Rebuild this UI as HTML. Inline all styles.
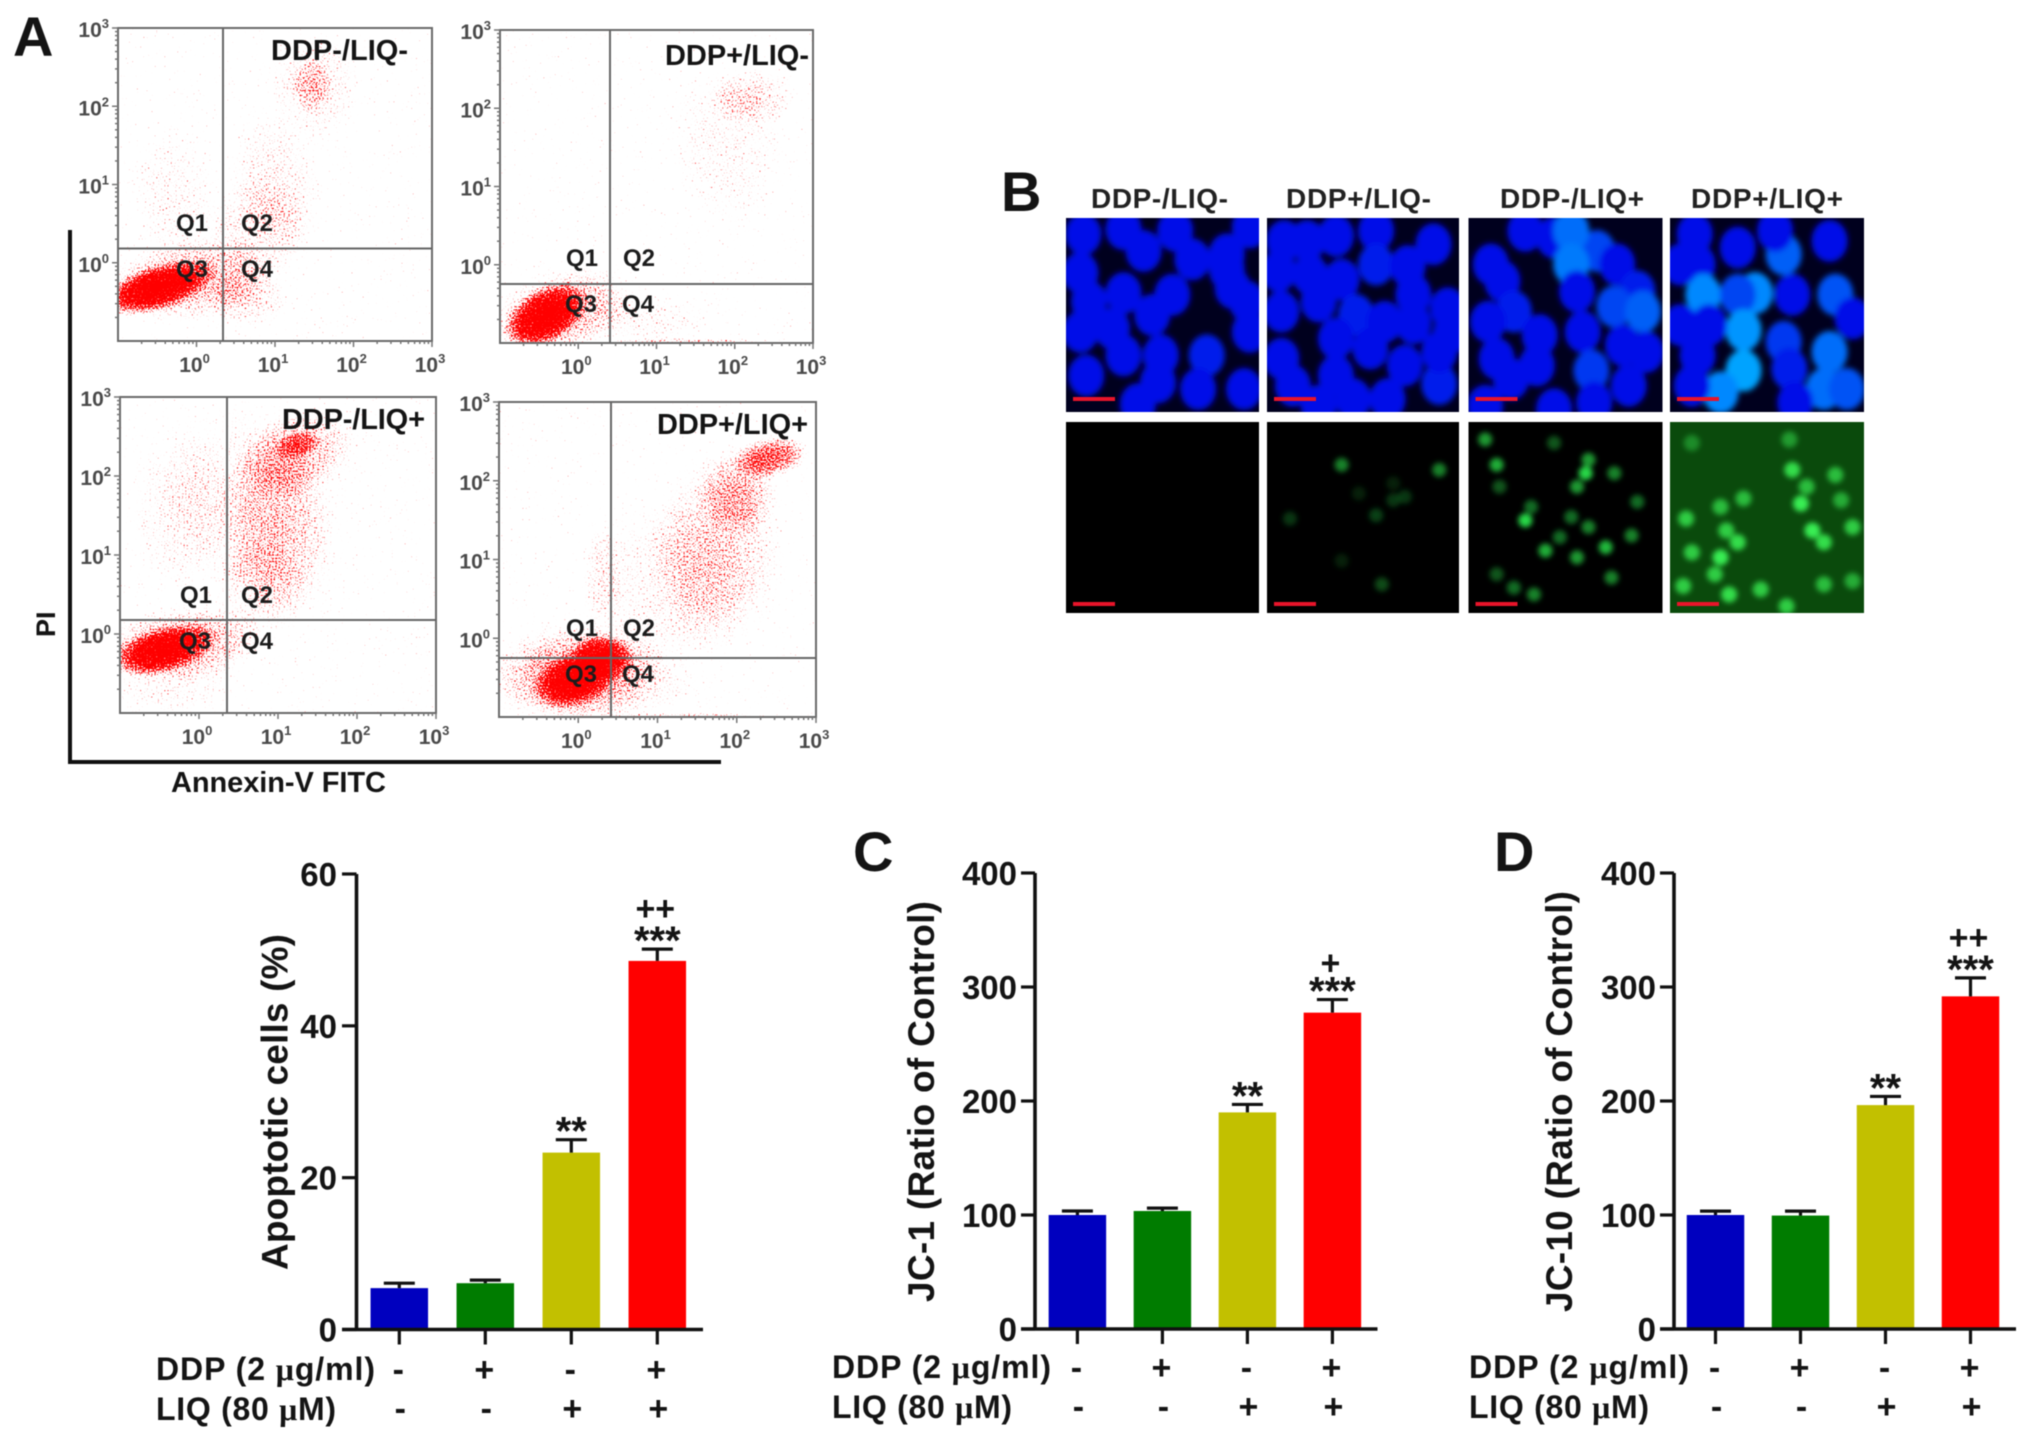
<!DOCTYPE html>
<html lang="en">
<head>
<meta charset="utf-8">
<title>Apoptosis and mitochondrial membrane potential figure</title>
<style>
html,body{margin:0;padding:0;background:#fff;width:2031px;height:1442px;overflow:hidden}
svg{display:block;filter:blur(.6px)}
text{font-family:"Liberation Sans",sans-serif;font-weight:bold;fill:#141414}
.q{font-size:24px;fill:#1c1c1c}
.pt{font-size:29px}
.bl{font-size:28px;fill:#222}
.row{font-size:32px}
.yt{font-size:37px}
.mu{font-family:"Liberation Serif",serif}
</style>
</head>
<body>
<svg id="figure" xmlns="http://www.w3.org/2000/svg" width="2031" height="1442" viewBox="0 0 2031 1442">
<defs>
<radialGradient id="cloud"><stop offset="0" stop-color="#000" stop-opacity="1"/><stop offset=".55" stop-color="#000" stop-opacity=".72"/><stop offset="1" stop-color="#000" stop-opacity="0"/></radialGradient>
<filter id="stipple-1" filterUnits="userSpaceOnUse" x="118" y="28" width="314" height="313" color-interpolation-filters="sRGB"><feTurbulence type="fractalNoise" baseFrequency="0.62" numOctaves="1" seed="3" result="n"/><feComposite in="SourceAlpha" in2="n" operator="arithmetic" k1="0" k2="1.3" k3="-2" k4="0.52" result="m"/><feComponentTransfer in="m" result="a"><feFuncA type="linear" slope="3"/></feComponentTransfer><feFlood flood-color="#ff0000"/><feComposite in2="a" operator="in"/></filter>
<filter id="stipple-2" filterUnits="userSpaceOnUse" x="500" y="30" width="313" height="313" color-interpolation-filters="sRGB"><feTurbulence type="fractalNoise" baseFrequency="0.62" numOctaves="1" seed="11" result="n"/><feComposite in="SourceAlpha" in2="n" operator="arithmetic" k1="0" k2="1.3" k3="-2" k4="0.52" result="m"/><feComponentTransfer in="m" result="a"><feFuncA type="linear" slope="3"/></feComponentTransfer><feFlood flood-color="#ff0000"/><feComposite in2="a" operator="in"/></filter>
<filter id="stipple-3" filterUnits="userSpaceOnUse" x="120" y="397" width="316" height="316" color-interpolation-filters="sRGB"><feTurbulence type="fractalNoise" baseFrequency="0.62" numOctaves="1" seed="23" result="n"/><feComposite in="SourceAlpha" in2="n" operator="arithmetic" k1="0" k2="1.3" k3="-2" k4="0.52" result="m"/><feComponentTransfer in="m" result="a"><feFuncA type="linear" slope="3"/></feComponentTransfer><feFlood flood-color="#ff0000"/><feComposite in2="a" operator="in"/></filter>
<filter id="stipple-4" filterUnits="userSpaceOnUse" x="499" y="402" width="317" height="315" color-interpolation-filters="sRGB"><feTurbulence type="fractalNoise" baseFrequency="0.62" numOctaves="1" seed="37" result="n"/><feComposite in="SourceAlpha" in2="n" operator="arithmetic" k1="0" k2="1.3" k3="-2" k4="0.52" result="m"/><feComponentTransfer in="m" result="a"><feFuncA type="linear" slope="3"/></feComponentTransfer><feFlood flood-color="#ff0000"/><feComposite in2="a" operator="in"/></filter>
<filter id="soft-nuclei" x="-5%" y="-5%" width="110%" height="110%"><feGaussianBlur stdDeviation="2.8"/></filter>
<filter id="soft-spots" x="-5%" y="-5%" width="110%" height="110%"><feGaussianBlur stdDeviation="2.6"/></filter>
</defs>

<g id="flow-layer"></g>
<g id="micro-layer"></g>
<g id="bar-layer"></g>

<text x="13" y="56" style="font-size:56px">A</text>
<text x="1001" y="211" style="font-size:56px">B</text>
<text x="853" y="871" style="font-size:56px">C</text>
<text x="1494" y="871" style="font-size:56px">D</text>

<text class="pt" x="271" y="60" textLength="137">DDP-/LIQ-</text>
<text class="pt" x="665" y="65" textLength="144">DDP+/LIQ-</text>
<text class="pt" x="282" y="429" textLength="143">DDP-/LIQ+</text>
<text class="pt" x="657" y="434" textLength="151">DDP+/LIQ+</text>

<g>
<text class="q" x="176" y="231">Q1</text><text class="q" x="241" y="231">Q2</text><text class="q" x="176" y="277">Q3</text><text class="q" x="241" y="277">Q4</text>
<text class="q" x="566" y="266">Q1</text><text class="q" x="623" y="266">Q2</text><text class="q" x="565" y="312">Q3</text><text class="q" x="622" y="312">Q4</text>
<text class="q" x="180" y="603">Q1</text><text class="q" x="241" y="603">Q2</text><text class="q" x="179" y="649">Q3</text><text class="q" x="241" y="649">Q4</text>
<text class="q" x="566" y="636">Q1</text><text class="q" x="623" y="636">Q2</text><text class="q" x="565" y="682">Q3</text><text class="q" x="622" y="682">Q4</text>
</g>

<path d="M70 230 V762 H721" fill="none" stroke="#111" stroke-width="4"/>
<text x="0" y="0" transform="translate(55 637) rotate(-90)" style="font-size:27px">PI</text>
<text x="171" y="792" textLength="215" style="font-size:29px">Annexin-V FITC</text>

<text class="bl" x="1091" y="208" textLength="137">DDP-/LIQ-</text>
<text class="bl" x="1286" y="208" textLength="145">DDP+/LIQ-</text>
<text class="bl" x="1500" y="208" textLength="144">DDP-/LIQ+</text>
<text class="bl" x="1691" y="208" textLength="152">DDP+/LIQ+</text>

<text class="yt" transform="translate(287.5 1270) rotate(-90)" textLength="336">Apoptotic cells (%)</text>
<text class="yt" transform="translate(934 1302) rotate(-90)" textLength="401">JC-1 (Ratio of Control)</text>
<text class="yt" transform="translate(1572 1312) rotate(-90)" textLength="421">JC-10 (Ratio of Control)</text>

<g>
<text class="row" x="156" y="1380" textLength="219">DDP (2 <tspan class="mu">μ</tspan>g/ml)</text>
<text class="row" x="156" y="1420" textLength="180">LIQ (80 <tspan class="mu">μ</tspan>M)</text>
<text class="row" x="832" y="1378" textLength="219">DDP (2 <tspan class="mu">μ</tspan>g/ml)</text>
<text class="row" x="832" y="1418" textLength="180">LIQ (80 <tspan class="mu">μ</tspan>M)</text>
<text class="row" x="1469" y="1378" textLength="220">DDP (2 <tspan class="mu">μ</tspan>g/ml)</text>
<text class="row" x="1469" y="1418" textLength="180">LIQ (80 <tspan class="mu">μ</tspan>M)</text>
</g>
</svg>

<script>
// ---- Bar chart data ----
const conditions = ['DDP-/LIQ-', 'DDP+/LIQ-', 'DDP-/LIQ+', 'DDP+/LIQ+'];
const ddpRow = ['-', '+', '-', '+'];
const liqRow = ['-', '-', '+', '+'];
const barColors = ['#0000bf', '#007c00', '#c2c000', '#ff0000'];

const apoptoticValues = [5.45, 6.1, 23.3, 48.55];
const apoptoticErrorTops = [6.1, 6.5, 25.0, 50.1];
const apoptoticTicks = [0, 20, 40, 60];
const apoptoticStars = ['', '', '**', '***'];
const apoptoticPlus = ['', '', '', '++'];

const jc1Values = [100, 103.5, 190, 277.5];
const jc1ErrorTops = [103.5, 106, 197, 289];
const jc1Ticks = [0, 100, 200, 300, 400];
const jc1Stars = ['', '', '**', '***'];
const jc1Plus = ['', '', '', '+'];

const jc10Values = [100, 99.5, 196.4, 291.8];
const jc10ErrorTops = [103.4, 103.4, 204, 308];
const jc10Ticks = [0, 100, 200, 300, 400];
const jc10Stars = ['', '', '**', '***'];
const jc10Plus = ['', '', '', '++'];

// ---- Flow cytometry density regions (log10 x, log10 y, log radius x, log radius y, tilt degrees, density) ----
const flowDecades = [0, 1, 2, 3];
const flowCloudsControl = [
  [-0.5, -0.32, 0.82, 0.3, 17, 1.0],
  [-0.1, -0.22, 1.12, 0.56, 8, 0.38],
  [0.65, -0.45, 0.55, 0.42, 0, 0.24],
  [0.8, 0.42, 0.75, 0.7, 0, 0.21],
  [1.0, 1.08, 0.6, 0.9, 20, 0.19],
  [1.47, 2.28, 0.28, 0.38, 0, 0.26],
  [1.5, 2.25, 0.65, 0.8, 0, 0.19],
  [-0.3, 0.88, 0.6, 0.95, 0, 0.15]
];
const flowCloudsDdp = [
  [-0.42, -0.65, 0.62, 0.36, 30, 1.0],
  [-0.2, -0.6, 1.0, 0.58, 15, 0.4],
  [0.95, -0.7, 0.8, 0.35, 0, 0.15],
  [2.23, 2.14, 0.6, 0.38, 0, 0.25],
  [1.9, 1.5, 0.8, 1.1, 10, 0.14],
  [1.5, -0.99, 1.3, 0.05, 0, 0.3]
];
const flowCloudsLiq = [
  [-0.45, -0.2, 0.72, 0.3, 15, 1.0],
  [-0.2, -0.12, 1.1, 0.5, 6, 0.4],
  [-0.35, -0.65, 0.85, 0.42, 0, 0.15],
  [1.25, 2.4, 0.32, 0.18, 15, 0.48],
  [1.25, 2.3, 0.85, 0.55, 20, 0.34],
  [1.0, 1.3, 0.8, 1.2, 10, 0.27],
  [0.6, 1.75, 1.15, 1.25, 0, 0.15],
  [0.77, 0.6, 0.65, 0.65, 0, 0.18],
  [-0.25, 1.55, 0.65, 1.15, 0, 0.15]
];
const flowCloudsCombo = [
  [-0.04, -0.52, 0.58, 0.36, 20, 1.0],
  [0.3, -0.25, 0.42, 0.32, 0, 0.9],
  [0.05, -0.4, 1.1, 0.68, 0, 0.36],
  [0, -0.55, 1.75, 0.58, 0, 0.2],
  [2.43, 2.3, 0.5, 0.28, 10, 0.6],
  [2.01, 1.87, 0.55, 0.62, 0, 0.33],
  [1.74, 1.1, 0.9, 1.25, 0, 0.27],
  [1.13, 0.65, 1.15, 1.15, 0, 0.16],
  [0.3, 0.8, 0.28, 0.75, 0, 0.16],
  [1.5, -0.99, 1.4, 0.05, 0, 0.3]
];

// ---- Micrograph features (source x, source y, brightness) ----
const nucleiControl = [[175,365,1],[285,300,1],[340,240,1],[250,235,1],[370,325,1],[430,310,1],[180,250,1],[250,425,1],[335,430,1],[300,490,1],[190,450,1],[230,530,1],[250,610,1],[315,610,1],[395,610,1.1],[440,410,1],[465,450,1],[185,670,1],[310,690,1],[380,710,1],[275,755,1],[460,710,1],[175,540,1],[470,230,1],[470,540,1],[430,355,1]];
const nucleiDdp = [[570,270,1],[530,270,1],[620,255,1],[690,240,1],[790,280,1],[690,340,1.1],[745,345,1],[520,360,1],[575,370,1],[630,385,1],[755,430,1],[590,450,1],[655,490,1.1],[705,510,1],[755,515,1],[815,470,1],[820,545,1],[525,480,1],[620,560,1],[525,620,1],[680,590,1],[740,640,1],[620,670,1],[545,700,1],[800,695,1.1],[710,740,1],[650,740,1],[590,760,1],[800,600,1]];
const nucleiLiq = [[890,340,1],[910,390,1],[1000,260,1],[950,240,1],[1075,300,1.4],[1030,240,1.7],[1030,340,1.8],[1110,340,1],[1145,420,1.1],[1105,465,1.4],[1155,480,1.6],[1040,420,1],[930,480,1.1],[885,510,1],[975,550,1],[1050,540,1],[1120,580,1],[900,620,1],[970,640,1],[1065,655,1.3],[1130,700,1],[925,680,1],[1000,770,1],[1070,750,1],[880,760,1],[1160,600,1]];
const nucleiCombo = [[1245,250,1],[1250,340,1],[1320,290,1],[1400,310,1.6],[1385,240,1],[1480,270,1],[1260,430,1.9],[1350,425,1.9],[1320,430,1.4],[1490,430,1.5],[1415,430,1],[1330,535,2],[1220,520,1],[1400,570,1.3],[1480,600,1.7],[1250,610,1],[1330,655,2.1],[1410,650,1.1],[1290,720,1.9],[1470,710,1.7],[1510,710,1.5],[1240,700,1],[1420,750,1],[1520,500,1],[1220,340,1],[1270,520,1]];
const spotsControl = [];
const spotsDdp = [[630,935,.6],[800,950,.6],[690,1085,.3],[720,1040,.25],[740,1030,.25],[540,1095,.25],[700,1290,.35],[630,1220,.15],[660,1020,.15],[720,990,.15]];
const spotsLiq = [[880,860,.7],[900,935,.8],[1055,960,1],[1060,920,.7],[1105,960,.6],[950,1100,1],[985,1190,.8],[1090,1180,.85],[1135,1145,.6],[1040,1210,.7],[1100,1270,.6],[965,1320,.6],[930,1300,.5],[1145,1045,.5],[1030,1090,.5],[1060,1120,.6],[1000,870,.4],[960,1060,.5],[905,1000,.4],[1040,1000,.7],[1010,1150,.5],[900,1260,.4]];
const spotsCombo = [[1415,950,.9],[1490,965,.7],[1430,1050,1],[1330,1035,.7],[1230,1095,.8],[1290,1060,.7],[1450,1130,1],[1520,1120,.8],[1320,1165,.9],[1470,1165,.9],[1290,1210,1],[1240,1195,.8],[1225,1295,.8],[1305,1320,.9],[1360,1305,.8],[1405,1355,.8],[1520,1280,.6],[1410,860,.5],[1300,1130,.8],[1440,1000,.7],[1280,1260,.8],[1470,1290,.7],[1240,870,.4],[1500,1040,.6]];

const NS = 'http://www.w3.org/2000/svg';
function mk(parent, tag, attrs, txt) {
  const el = document.createElementNS(NS, tag);
  for (const k in attrs) el.setAttribute(k, attrs[k]);
  if (txt !== undefined) el.textContent = txt;
  parent.appendChild(el);
  return el;
}

// ---- Flow plots ----
const flowLayer = document.getElementById('flow-layer');
const flowLayouts = [
  {id: 1, l: 118, r: 432, t: 28, b: 341, qx: 223, qy: 248.5, clouds: flowCloudsControl},
  {id: 2, l: 500, r: 813, t: 30, b: 343, qx: 610, qy: 284, clouds: flowCloudsDdp},
  {id: 3, l: 120, r: 436, t: 397, b: 713, qx: 227, qy: 620, clouds: flowCloudsLiq},
  {id: 4, l: 499, r: 816, t: 402, b: 717, qx: 611, qy: 658, clouds: flowCloudsCombo}
];
const LOG_MIN = -1, LOG_MAX = 3;
flowLayouts.forEach(function (p) {
  const sx = function (v) { return p.l + (v - LOG_MIN) / (LOG_MAX - LOG_MIN) * (p.r - p.l); };
  const sy = function (v) { return p.b - (v - LOG_MIN) / (LOG_MAX - LOG_MIN) * (p.b - p.t); };
  const rxU = (p.r - p.l) / (LOG_MAX - LOG_MIN), ryU = (p.b - p.t) / (LOG_MAX - LOG_MIN);
  const plot = mk(flowLayer, 'g', {});
  
  
  const dots = mk(plot, 'g', {filter: 'url(#stipple-' + p.id + ')'});
  
  
  p.clouds.forEach(function (c) {
    const cx = sx(c[0]), cy = sy(c[1]);
    const e = mk(dots, 'ellipse', {cx: cx, cy: cy, rx: c[2] * rxU, ry: c[3] * ryU, fill: 'url(#cloud)', 'fill-opacity': c[5], transform: 'rotate(' + (-c[4]) + ' ' + cx + ' ' + cy + ')'});
    
    
  });
  const frame = mk(plot, 'rect', {x: p.l, y: p.t, width: p.r - p.l, height: p.b - p.t, fill: 'none', stroke: '#6a6a6a', 'stroke-width': 2});
  
  
  const qv = mk(plot, 'line', {x1: p.qx, x2: p.qx, y1: p.t, y2: p.b, stroke: '#666', 'stroke-width': 2});
  
  
  const qh = mk(plot, 'line', {x1: p.l, x2: p.r, y1: p.qy, y2: p.qy, stroke: '#666', 'stroke-width': 2});
  
  
  const ticks = mk(plot, 'g', {stroke: '#777', 'stroke-width': 1.5});
  
  
  for (let d = LOG_MIN; d < LOG_MAX; d++) {
    for (let m = 2; m < 10; m++) {
      const v = d + Math.log10(m);
      mk(ticks, 'line', {x1: sx(v), x2: sx(v), y1: p.b, y2: p.b + 3});
      mk(ticks, 'line', {y1: sy(v), y2: sy(v), x1: p.l, x2: p.l - 3});
    }
  }
  flowDecades.forEach(function (d) {
    mk(ticks, 'line', {x1: sx(d), x2: sx(d), y1: p.b, y2: p.b + 6});
    mk(ticks, 'line', {y1: sy(d), y2: sy(d), x1: p.l, x2: p.l - 6});
    const xl = mk(plot, 'text', {x: sx(d) - 2, y: p.b + 31, 'text-anchor': 'middle', style: 'font-size:21px;fill:#4a4a4a'});
    
    
    mk(xl, 'tspan', {}, '10');
    mk(xl, 'tspan', {dy: -9, style: 'font-size:13px'}, String(d));
    const yl = mk(plot, 'text', {x: p.l - 9, y: sy(d) + 9, 'text-anchor': 'end', style: 'font-size:21px;fill:#4a4a4a'});
    
    
    mk(yl, 'tspan', {}, '10');
    mk(yl, 'tspan', {dy: -9, style: 'font-size:13px'}, String(d));
  });
});

// ---- Micrographs ----
const microLayer = document.getElementById('micro-layer');
const srcX = function (v) { return 980 + v / 1.742; };
const srcY = function (v) { return 150 + v / 2.97; };
const microColumns = [{l: 1066, r: 1259}, {l: 1267, r: 1459}, {l: 1468.5, r: 1662.5}, {l: 1670, r: 1864}];
const nucleiSets = [nucleiControl, nucleiDdp, nucleiLiq, nucleiCombo];
const spotSets = [spotsControl, spotsDdp, spotsLiq, spotsCombo];
const svgDefs = document.querySelector('defs');
microColumns.forEach(function (col, i) {
  const w = col.r - col.l;
  const clipA = mk(svgDefs, 'clipPath', {id: 'clip-blue-' + i});
  mk(clipA, 'rect', {x: col.l, y: 218, width: w, height: 194});
  const clipB = mk(svgDefs, 'clipPath', {id: 'clip-green-' + i});
  mk(clipB, 'rect', {x: col.l, y: 422, width: w, height: 191});

  const blue = mk(microLayer, 'g', {'clip-path': 'url(#clip-blue-' + i + ')'});
  
  
  mk(blue, 'rect', {x: col.l, y: 218, width: w, height: 194, fill: '#00001e'});
  const ng = mk(blue, 'g', {filter: 'url(#soft-nuclei)'});
  nucleiSets[i].forEach(function (n) {
    const b = n[2];
    const g = Math.round((b - 1) * 135 + 14);
    const c = mk(ng, 'ellipse', {cx: srcX(n[0]), cy: srcY(n[1]), rx: 18, ry: 21, fill: 'rgb(0,' + g + ',' + Math.round(Math.min(255, 232 + (b - 1) * 25)) + ')'});
    
    
  });
  const sb1 = mk(blue, 'rect', {x: col.l + 7, y: 397, width: 42, height: 4, fill: '#e8142a'});
  
  

  const green = mk(microLayer, 'g', {'clip-path': 'url(#clip-green-' + i + ')'});
  
  
  mk(green, 'rect', {x: col.l, y: 422, width: w, height: 191, fill: i === 3 ? '#0a4a0c' : '#000'});
  const sg = mk(green, 'g', {filter: 'url(#soft-spots)'});
  spotSets[i].forEach(function (s) {
    const c = mk(sg, 'circle', {cx: srcX(s[0]), cy: srcY(s[1]), r: i === 3 ? 8 : 7, fill: i === 3 ? '#38ee52' : '#26d846', 'fill-opacity': s[2]});
    
    
  });
  const sb2 = mk(green, 'rect', {x: col.l + 7, y: 602, width: 42, height: 4, fill: '#e8142a'});
  
  
});

// ---- Bar charts ----
const barLayer = document.getElementById('bar-layer');
const barLayouts = [
  {key: 'apoptotic', values: apoptoticValues, tops: apoptoticErrorTops, ticks: apoptoticTicks, stars: apoptoticStars, plus: apoptoticPlus, ax: 356.5, y0: 1329.5, yT: 874, tl: 342, xr: 703, c0: 399.3, step: 86, lab: 337, r1: 1381, r2: 1420, plusGap: 29},
  {key: 'jc1', values: jc1Values, tops: jc1ErrorTops, ticks: jc1Ticks, stars: jc1Stars, plus: jc1Plus, ax: 1035, y0: 1329, yT: 873, tl: 1021, xr: 1377.5, c0: 1077.4, step: 85, lab: 1017, r1: 1379, r2: 1418, plusGap: 25},
  {key: 'jc10', values: jc10Values, tops: jc10ErrorTops, ticks: jc10Ticks, stars: jc10Stars, plus: jc10Plus, ax: 1674, y0: 1329, yT: 873, tl: 1660, xr: 2016, c0: 1715.5, step: 85, lab: 1656, r1: 1379, r2: 1418, plusGap: 29}
];
const BAR_W = 57.5;
barLayouts.forEach(function (c) {
  const maxT = c.ticks[c.ticks.length - 1];
  const y = function (v) { return c.y0 - v / maxT * (c.y0 - c.yT); };
  const x = function (i) { return c.c0 + i * c.step; };
  const chart = mk(barLayer, 'g', {});
  
  
  c.values.forEach(function (v, i) {
    const bar = mk(chart, 'rect', {x: x(i) - BAR_W / 2, y: y(v), width: BAR_W, height: c.y0 - y(v), fill: barColors[i]});
    
    
    mk(bar, 'title', {}, conditions[i]);
    const err = mk(chart, 'path', {d: 'M' + x(i) + ' ' + y(v) + 'V' + y(c.tops[i]) + 'M' + (x(i) - 15.5) + ' ' + y(c.tops[i]) + 'H' + (x(i) + 15.5), stroke: '#111', 'stroke-width': 3.2, fill: 'none'});
    
    
    const tick = mk(chart, 'line', {x1: x(i), x2: x(i), y1: c.y0, y2: c.y0 + 15, stroke: '#111', 'stroke-width': 3.2});
    
    
    const d = mk(chart, 'text', {x: x(i) - 1, y: c.r1, 'text-anchor': 'middle', style: 'font-size:34px'}, ddpRow[i]);
    
    
    const l = mk(chart, 'text', {x: x(i) + 1, y: c.r2, 'text-anchor': 'middle', style: 'font-size:34px'}, liqRow[i]);
    
    
    if (c.stars[i]) {
      const s = mk(chart, 'text', {x: x(i), y: y(c.tops[i]) - 17 + 22, 'text-anchor': 'middle', style: 'font-size:40px'}, c.stars[i]);
      
      
    }
    if (c.plus[i]) {
      const p = mk(chart, 'text', {x: x(i) - 2, y: y(c.tops[i]) - c.plusGap, 'text-anchor': 'middle', style: 'font-size:34px'}, c.plus[i]);
      
      
    }
  });
  const axes = mk(chart, 'path', {d: 'M' + c.ax + ' ' + c.yT + 'V' + c.y0 + 'M' + c.tl + ' ' + c.y0 + 'H' + c.xr, stroke: '#111', 'stroke-width': 3.6, fill: 'none'});
  
  
  c.ticks.forEach(function (t) {
    const tk = mk(chart, 'line', {x1: c.tl, x2: c.ax, y1: y(t), y2: y(t), stroke: '#111', 'stroke-width': 3.2});
    
    
    const tl = mk(chart, 'text', {x: c.lab, y: y(t) + 12, 'text-anchor': 'end', style: 'font-size:33px'}, String(t));
    
    
  });
});
</script>
</body>
</html>
